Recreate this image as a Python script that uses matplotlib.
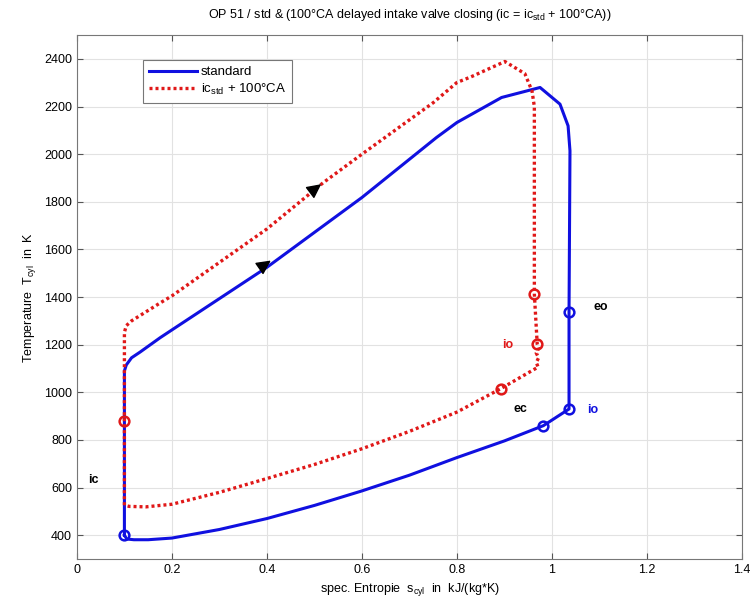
import matplotlib
matplotlib.use('Agg')
import matplotlib.pyplot as plt
import numpy as np

plt.rcParams.update({'font.family': 'Liberation Sans', 'font.size': 9,
                     'mathtext.fontset': 'custom',
                     'mathtext.rm': 'Liberation Sans',
                     'mathtext.it': 'Liberation Sans'})

# standard cycle (entropy kJ/(kg*K), temperature K)
s_std = [0.1, 0.1, 0.104, 0.115, 0.133, 0.175, 0.2, 0.4, 0.6, 0.757, 0.8, 0.894, 0.975,
         1.017, 1.034, 1.038, 1.036, 1.036, 0.982, 0.9, 0.8, 0.7, 0.6, 0.5, 0.4, 0.3,
         0.2, 0.15, 0.12, 0.105, 0.1]
T_std = [400, 1090, 1115, 1145, 1169, 1229, 1262, 1525, 1818, 2070, 2133, 2238, 2280,
         2210, 2119, 2014, 1336, 930, 860, 796, 726, 652, 586, 525, 470, 424,
         388, 381, 381, 384, 400]

# ic delayed by 100 deg CA
s_ic = [0.1, 0.1, 0.104, 0.115, 0.175, 0.2, 0.4, 0.519, 0.6, 0.75, 0.8, 0.83, 0.901, 0.943,
        0.958, 0.963, 0.963, 0.969, 0.972, 0.967, 0.972, 0.967, 0.971, 0.892, 0.8, 0.7,
        0.6, 0.5, 0.4, 0.3, 0.2, 0.145, 0.11, 0.1]
T_ic = [526, 1252, 1280, 1300, 1375, 1405, 1686, 1881, 2000, 2216, 2301, 2325, 2389, 2338,
        2266, 2200, 1413, 1203, 1185, 1165, 1145, 1125, 1106, 1015, 917, 836,
        763, 697, 638, 580, 530, 519, 521, 526]

# event markers
mk_std_s = [0.1, 0.982, 1.036, 1.036]
mk_std_T = [400, 860, 1336, 930]
mk_ic_s = [0.1, 0.892, 0.963, 0.969]
mk_ic_T = [878, 1015, 1413, 1203]

blue = '#1010e0'
red = '#e01818'

fig = plt.figure(figsize=(7.54, 6.05), dpi=100)
ax = fig.add_axes([0.102, 0.076, 0.882, 0.866])

ax.plot(s_std, T_std, color=blue, lw=2.2, label='standard', zorder=3)
ax.plot(s_ic, T_ic, color=red, lw=2.4, dashes=(0.9, 0.9), label='ic$_{\\mathregular{std}}$ + 100°CA', zorder=4)
ax.plot(mk_std_s, mk_std_T, 'o', ms=7, mfc='none', mec=blue, mew=1.8, zorder=5)
ax.plot(mk_ic_s, mk_ic_T, 'o', ms=7, mfc='none', mec=red, mew=1.8, zorder=5)

# direction arrows
ax.annotate('', xy=(0.413, 1560), xytext=(0.385, 1521),
            arrowprops=dict(arrowstyle='-|>', color='k', lw=1, mutation_scale=22), zorder=6)
ax.annotate('', xy=(0.519, 1881), xytext=(0.495, 1845),
            arrowprops=dict(arrowstyle='-|>', color='k', lw=1, mutation_scale=22), zorder=6)

ax.text(0.034, 630, 'ic', fontsize=9, fontweight='bold', ha='center', va='center')
ax.text(0.933, 932, 'ec', fontsize=9, fontweight='bold', ha='center', va='center')
ax.text(1.103, 1360, 'eo', fontsize=9, fontweight='bold', ha='center', va='center')
ax.text(1.086, 924, 'io', fontsize=9, fontweight='bold', color=blue, ha='center', va='center')
ax.text(0.907, 1197, 'io', fontsize=9, fontweight='bold', color=red, ha='center', va='center')

ax.set_xlim(0, 1.4)
ax.set_ylim(300, 2500)
ax.set_xticks(np.arange(0, 1.41, 0.2))
ax.set_xticklabels(['0', '0.2', '0.4', '0.6', '0.8', '1', '1.2', '1.4'])
ax.set_yticks(np.arange(400, 2401, 200))
ax.grid(True, color='#e2e2e2', lw=0.8)
ax.set_axisbelow(True)
ax.tick_params(direction='in', top=True, right=True, length=4, color='#555555')
for sp in ax.spines.values():
    sp.set_color('#777777')

ax.set_xlabel('spec. Entropie  s$_{\\mathregular{cyl}}$  in  kJ/(kg*K)', fontsize=9)
ax.set_ylabel('Temperature  T$_{\\mathregular{cyl}}$  in  K', fontsize=9)
ax.set_title('OP 51 / std & (100°CA delayed intake valve closing (ic = ic$_{\\mathregular{std}}$ + 100°CA))',
             fontsize=9, pad=12)

leg = ax.legend(loc='upper left', bbox_to_anchor=(0.1, 0.952), fancybox=False,
                framealpha=1, edgecolor='#777777', fontsize=9.5, handlelength=3.6,
                borderpad=0.45, labelspacing=0.25, handletextpad=0.3, borderaxespad=0)
leg.get_frame().set_linewidth(0.8)

fig.savefig('out.png', dpi=100)
